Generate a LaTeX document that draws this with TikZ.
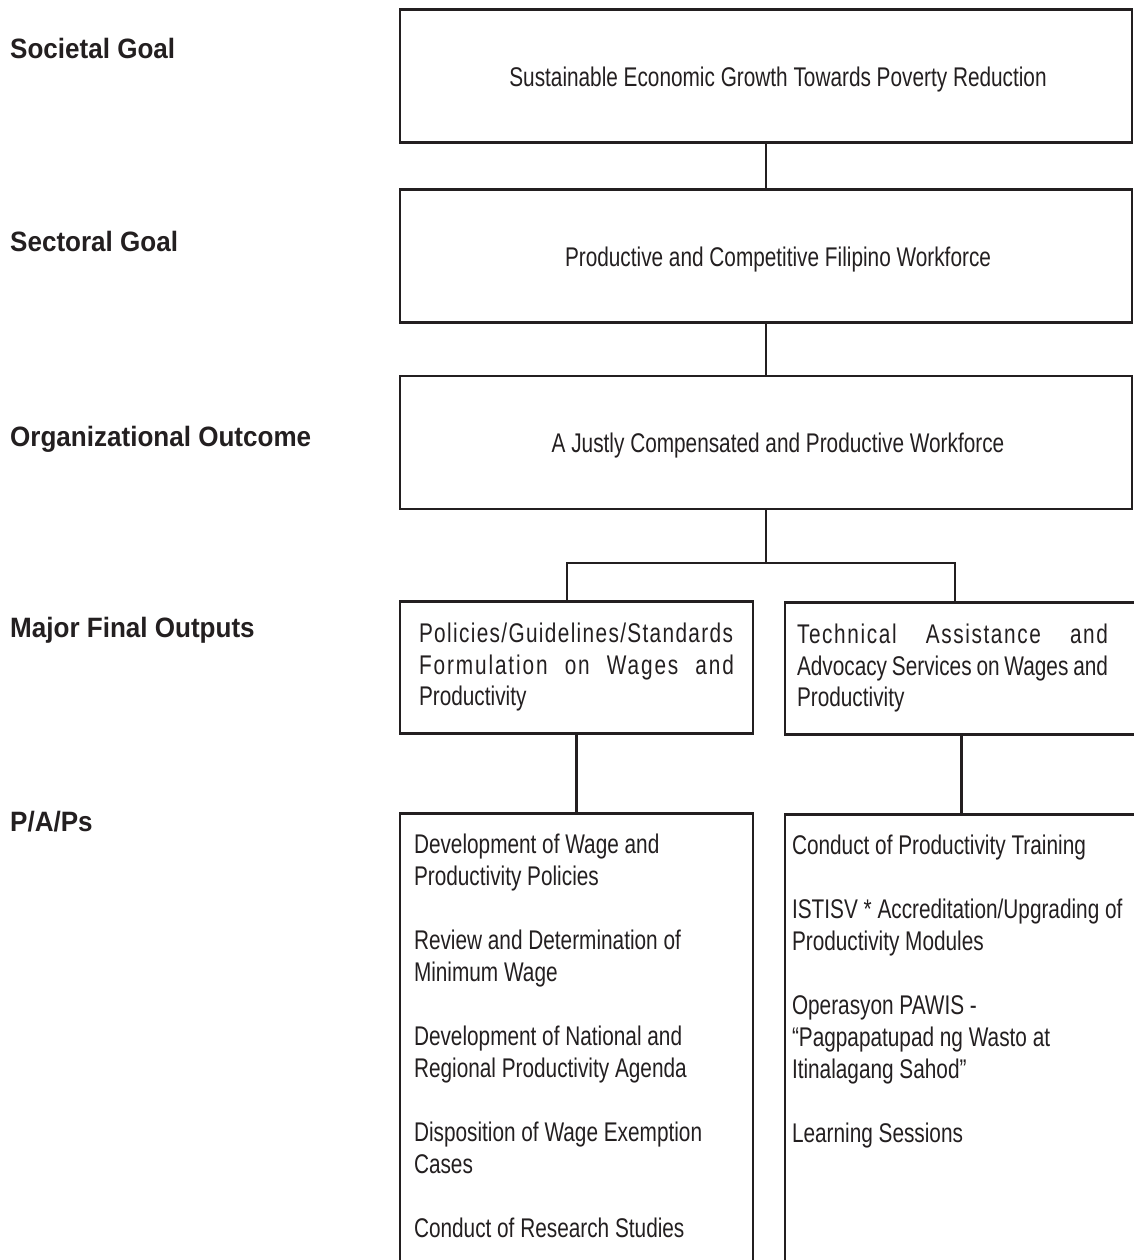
\documentclass[tikz,border=0pt]{standalone}
\usepackage{fontspec}
\setmainfont{Liberation Sans}
\newfontfamily\narrowfont[FakeStretch=0.77]{Liberation Sans}
\newfontfamily\labelfont[FakeStretch=0.93]{Liberation Sans Bold}
\definecolor{ink}{HTML}{231F20}
\newcommand{\itemgap}{\par\vspace{32pt}}

\tikzset{
	level/.style={anchor=base west, inner sep=0pt, text=ink, font=\labelfont\fontsize{28}{30}\selectfont},
	goalbox/.style={draw=ink, line width=2.5pt, minimum width=732pt, minimum height=133pt, text height=20.6pt, text depth=0pt, text=ink, font=\narrowfont\fontsize{27}{32}\selectfont, execute at begin node=\hspace*{24pt}},
	outbox/.style={draw=ink, line width=2.5pt, minimum width=353pt, minimum height=132pt, inner xsep=0pt, align=left, text=ink, font=\narrowfont\fontsize{27}{31.5}\selectfont},
	papbox/.style={draw=ink, line width=2.5pt, anchor=north, minimum width=353pt, inner xsep=0pt, inner ysep=17.6pt, text=ink, font=\narrowfont\fontsize{27}{32}\selectfont},
	link/.style={draw=ink, line width=2.5pt}
}

\begin{document}
\begin{tikzpicture}[x=1pt,y=-1pt]
	\useasboundingbox (0,0) rectangle (1133,1260);
	%level labels
		\node[level] (lsoc) at (10,59) {Societal Goal};
		\node[level] (lsec) at (10,251) {Sectoral Goal};
		\node[level] (lorg) at (10,446) {Organizational Outcome};
		\node[level] (lmfo) at (10,637) {Major Final Outputs};
		\node[level] (lpap) at (10,831) {P/A/Ps};
	%goals and outcome
		\node[goalbox] (soc) at (766,76) {Sustainable Economic Growth Towards Poverty Reduction};
		\node[goalbox] (sec) at (766,256) {Productive and Competitive Filipino Workforce};
		\node[goalbox] (org) at (766,442.5) {A Justly Compensated and Productive Workforce};
	%major final outputs
		\node[outbox, text width=315pt] (mfoL) at (576.5,667.5) {{\addfontfeature{LetterSpace=5}Policies/Guidelines/Standards}\\
			\makebox[315pt]{\addfontfeature{LetterSpace=7}Formulation\hfill on\hfill Wages\hfill and}\\
			Productivity};
		\node[outbox, text width=329pt] (mfoR) at (961.5,668.5) {\makebox[311pt]{\addfontfeature{LetterSpace=6}Technical\hfill Assistance\hfill and}\\
			\makebox[311pt]{Advocacy\hfill Services\hfill on\hfill Wages\hfill and}\\
			Productivity};
	%programs, activities and projects
		\node[papbox] (papL) at (576.5,812) {\parbox[t][460pt][t]{325pt}{\strut Development of Wage and\\ Productivity Policies\itemgap
			Review and Determination of\\ Minimum Wage\itemgap
			Development of National and\\ Regional Productivity Agenda\itemgap
			Disposition of Wage Exemption\\ Cases\itemgap
			Conduct of Research Studies}};
		\node[papbox] (papR) at (961.5,813) {\parbox[t][460pt][t]{339pt}{\strut Conduct of Productivity Training\itemgap
			ISTISV * Accreditation/Upgrading of\\ Productivity Modules\itemgap
			Operasyon PAWIS -\\ “Pagpapatupad ng Wasto at\\ Itinalagang Sahod”\itemgap
			Learning Sessions}};
	%connectors
		\draw[link] (soc) -- (sec);
		\draw[link] (sec) -- (org);
		\coordinate (forkL) at (567,563);
		\coordinate (forkR) at (955,563);
		\draw[link] (org) -- (org |- forkL);
		\draw[link] (forkL |- mfoL.north) -- (forkL) -- (forkR) -- (forkR |- mfoR.north);
		\draw[link] (mfoL) -- (papL);
		\draw[link] (mfoR) -- (papR);
\end{tikzpicture}
\end{document}
